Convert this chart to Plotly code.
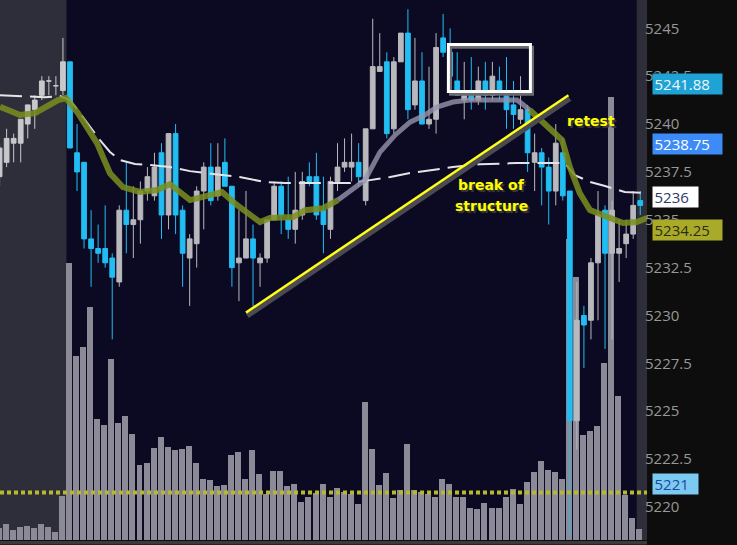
import plotly.graph_objects as go

# ---------------- data ----------------
bar_index = list(range(-10, 82))          # candle number, 0 = first regular-session bar
opens = [5237.25, 5238, 5239, 5239, 5240, 5240.75, 5241.5, 5242.25, 5242, 5241.75,
         5243.25, 5238.5, 5238, 5234, 5233.5, 5233.5, 5233, 5231.75, 5235.5, 5234.75,
         5235, 5236.5, 5236.25, 5238.5, 5235.25, 5239.5, 5235.5, 5233, 5233.75, 5236.5,
         5237.75, 5236.25, 5238, 5236.75, 5232.75, 5233, 5234, 5232.75, 5233, 5235,
         5236.75, 5235, 5234.5, 5235.25, 5237.25, 5237.25, 5235.5, 5234.5, 5237, 5237.75,
         5237.75, 5238, 5236, 5239.75, 5242.75, 5243.25, 5239.75, 5243.25, 5244.75, 5241,
         5242.25, 5240, 5240.25, 5244.5, 5243.75, 5242.25, 5241.25, 5241.75, 5241.25, 5242.25,
         5241.5, 5242.25, 5241.5, 5241, 5240.25, 5240.75, 5238, 5238.5, 5237.75, 5236.5,
         5238.5, 5236.5, 5224.5, 5230, 5229.75, 5232.75, 5235.5, 5233.25, 5233.25, 5233.75,
         5234.25, 5236]
highs = [5239, 5239.75, 5239.5, 5240.25, 5241, 5241.5, 5242.5, 5242.5, 5242.5, 5244.5,
         5243.25, 5240, 5238, 5235.5, 5234.75, 5235.75, 5233.25, 5235.75, 5238, 5236.75,
         5237, 5237.75, 5238.5, 5239, 5239.5, 5240, 5235.75, 5234.25, 5236.75, 5238,
         5239, 5239, 5239.25, 5236.75, 5235.5, 5236.5, 5234.75, 5233.25, 5235, 5237,
         5237, 5237.25, 5237.5, 5237.5, 5238, 5238.5, 5237.25, 5237.25, 5239, 5239.25,
         5239.5, 5239, 5239.75, 5245.5, 5244.75, 5243.75, 5243.5, 5244.75, 5246, 5244.5,
         5243.75, 5243, 5244.75, 5245.75, 5245, 5243.75, 5243.25, 5243.5, 5243, 5243.25,
         5243.25, 5243, 5243.5, 5242.25, 5242.5, 5241, 5239.5, 5238.75, 5238.25, 5240,
         5239.25, 5236.5, 5231.75, 5230.5, 5233, 5236.5, 5235.75, 5236, 5235, 5235,
         5236.5, 5236.5]
lows = [5236.75, 5237.75, 5238, 5238, 5239.25, 5239.75, 5241.25, 5241.5, 5241.5, 5241.5,
        5238.75, 5236.5, 5233.5, 5231.5, 5232.75, 5232.5, 5228.75, 5231.5, 5233.25, 5233,
        5233.75, 5236, 5236, 5234, 5234.5, 5234.25, 5231.5, 5230.5, 5232.5, 5234.5,
        5235.75, 5236, 5236.75, 5231.5, 5230.75, 5233, 5230.5, 5231.5, 5232.75, 5235,
        5234.25, 5234, 5233.75, 5235, 5236.75, 5235, 5233.25, 5234, 5236.5, 5237.5,
        5237, 5236.75, 5235.75, 5239.75, 5242.75, 5239.25, 5239.5, 5243.25, 5240.25, 5240.75,
        5240, 5239.75, 5239.5, 5243.5, 5242, 5241.5, 5240.25, 5240.75, 5241, 5240.75,
        5241.25, 5241.25, 5239.75, 5239.75, 5240, 5237.5, 5236.5, 5235.75, 5234.75, 5235.75,
        5236, 5218.5, 5223, 5227.25, 5228.75, 5229.75, 5228.25, 5228.75, 5231.75, 5233,
        5234, 5235.25]
closes = [5238.75, 5239.25, 5239.25, 5240.25, 5241, 5241.25, 5242.25, 5242.25, 5242, 5243.25,
          5238.75, 5237.5, 5234, 5233.5, 5233.25, 5232.75, 5232, 5235.5, 5234.75, 5235,
          5236.5, 5237.25, 5237.75, 5235.25, 5239.5, 5235.25, 5233.25, 5234, 5236.5, 5237.75,
          5236, 5237.75, 5236.75, 5232.5, 5233, 5234, 5233, 5233, 5235, 5236.75,
          5235.25, 5234.5, 5235.5, 5237, 5237, 5235.25, 5234.75, 5237, 5237.75, 5238,
          5238, 5237.25, 5239.75, 5243, 5243, 5239.5, 5243.25, 5244.75, 5240.75, 5242.25,
          5240, 5240.25, 5244, 5243.75, 5242.5, 5241.5, 5241.5, 5241.25, 5242.25, 5241.5,
          5242.5, 5241.75, 5240.75, 5240.5, 5240.75, 5238.5, 5238.5, 5237.75, 5236.5, 5239,
          5236.25, 5224.5, 5229.75, 5229.5, 5232.75, 5235.25, 5233.25, 5235.5, 5233.5, 5234.25,
          5235.75, 5235.75]
volumes = [12, 16, 10, 13, 14, 12, 16, 13, 8, 44,
           277, 184, 193, 233, 121, 115, 181, 117, 124, 106,
           75, 77, 92, 103, 93, 90, 91, 94, 77, 61,
           60, 54, 55, 85, 88, 61, 90, 66, 46, 69,
           69, 54, 56, 38, 43, 47, 56, 43, 52, 48,
           46, 36, 138, 91, 55, 67, 42, 50, 96, 50,
           48, 46, 43, 61, 56, 43, 43, 32, 31, 37,
           32, 32, 43, 51, 36, 58, 68, 79, 70, 68,
           61, 301, 263, 105, 109, 114, 177, 443, 144, 45,
           22, 11]

# thick moving average (olive when trending, grey during the rally phase)
ma_olive1_i = [-9.94, -7.1, -4.97, -3.55, -1.7, -0.57, 1.14, 3.84, 5.68, 7.53, 9.94, 12.36,
               14.2, 17.05, 18.9, 21.6, 23.7, 26.99, 28.4, 31.7, 33.4, 35.9, 38.07]
ma_olive1_p = [5240.9, 5240.47, 5240.57, 5240.84, 5241.25, 5241.36, 5240.57, 5239.0, 5237.43,
               5236.7, 5236.45, 5236.55, 5236.86, 5236.03, 5236.19, 5236.45, 5235.77, 5234.88,
               5235.09, 5235.14, 5235.5, 5235.6, 5236.03]
ma_grey_i = [38.07, 41.9, 44.03, 46.2, 48.3, 50.4, 52.1, 54.4, 56.8, 59.7, 63.5, 64.3, 65.3]
ma_grey_p = [5236.03, 5237.07, 5238.53, 5239.43, 5240.1, 5240.47, 5240.89, 5241.15, 5241.25,
             5241.25, 5241.25, 5241.04, 5240.73]
ma_olive2_i = [65.3, 67.76, 69.9, 71.0, 72.4, 73.86, 76.3, 78.55, 80.5, 81.96]
ma_olive2_p = [5240.73, 5239.84, 5239.16, 5237.75, 5236.4, 5235.51, 5235.14, 5234.83, 5234.88,
               5235.09]

# dashed slow moving average
ma_slow_i = [-9.94, -7.1, -3.55, -1.42, 0, 1.42, 2.84, 4.26, 5.68, 7.1, 9.23, 11.36, 14.2,
             17.05, 20.6, 24.1, 27.7, 30.5, 35.5, 39.8, 42.6, 45.5, 48.3, 51.1, 54.4, 58.2,
             63.5, 67.8, 70.3, 71.7, 73.9, 76.0, 78.8, 81.96]
ma_slow_p = [5241.51, 5241.46, 5241.4, 5241.46, 5241.25, 5240.57, 5239.84, 5239.16, 5238.54,
             5238.12, 5237.91, 5237.86, 5237.75, 5237.54, 5237.38, 5237.23, 5236.97, 5236.92,
             5236.92, 5236.92, 5237.07, 5237.23, 5237.44, 5237.6, 5237.75, 5237.9, 5237.96,
             5237.96, 5237.96, 5237.33, 5236.97, 5236.76, 5236.45, 5236.4]

level_price = 5220.75                     # dotted yellow level
price_ticks = [5220, 5222.5, 5225, 5227.5, 5230, 5232.5, 5235, 5237.5, 5240, 5242.5, 5245]
tick_text = ['5220', '5222.5', '5225', '5227.5', '5230', '5232.5', '5235', '5237.5', '5240',
             '5242.5', '5245']
badge_values = [5241.88, 5238.75, 5236, 5234.25, 5221]
badge_texts = ['5241.88', '5238.75', '5236', '5234.25', '5221']
badge_bg = ['#1fa2d4', '#3d8bf8', '#ffffff', '#aaaa2a', '#7ccaf2']
badge_fg = ['#eef8ff', '#ffffff', '#2b3b68', '#2c2c10', '#1a4a9a']
badge_w = [66, 66, 42, 66, 42]

trend_i = [25.0, 70.8]
trend_p = [5230.15, 5241.5]
box_i = [53.75, 65.4]
box_p = [5241.7, 5244.15]
session_open_i = -0.5
session_close_i = 80.5

notes = ['retest', 'break of', 'structure']
note_i = [74.0, 59.94, 59.94]
note_p = [5240.15, 5236.81, 5235.71]

# ---------------- styling ----------------
BLUE = '#22bdf2'
GREY = '#b8b8bd'
BG = '#0b0a22'
SHADE = '#2e2e3a'
OLIVE = 'rgba(122,142,30,0.85)'

pre = [k for k, i in enumerate(bar_index) if i < 0]
rth = [k for k, i in enumerate(bar_index) if i >= 0]

def pick(a, ks):
    return [a[k] for k in ks]

fig = go.Figure()

fig.add_trace(go.Bar(x=bar_index, y=volumes, marker=dict(color='#8b8a96', line=dict(width=0)),
                     width=0.85, offset=-0.55, yaxis='y', hoverinfo='skip'))

fig.add_trace(go.Scatter(x=ma_slow_i, y=ma_slow_p, mode='lines', yaxis='y2',
                         line=dict(color='#e4e4e8', width=2, dash='22px,8px'), hoverinfo='skip'))
for xi, yp, col, w in [(ma_olive1_i, ma_olive1_p, OLIVE, 6),
                       (ma_grey_i, ma_grey_p, 'rgba(150,148,172,0.8)', 5),
                       (ma_olive2_i, ma_olive2_p, OLIVE, 6)]:
    fig.add_trace(go.Scatter(x=xi, y=yp, mode='lines', yaxis='y2',
                             line=dict(color=col, width=w), hoverinfo='skip'))

fig.add_trace(go.Candlestick(
    x=pick(bar_index, pre), open=pick(opens, pre), high=pick(highs, pre),
    low=pick(lows, pre), close=pick(closes, pre), yaxis='y2', whiskerwidth=0,
    increasing=dict(line=dict(color='#c8c8cc', width=1), fillcolor='#c8c8cc'),
    decreasing=dict(line=dict(color='#c8c8cc', width=1), fillcolor='#c8c8cc'),
    hoverinfo='skip'))
fig.add_trace(go.Candlestick(
    x=pick(bar_index, rth), open=pick(opens, rth), high=pick(highs, rth),
    low=pick(lows, rth), close=pick(closes, rth), yaxis='y2', whiskerwidth=0,
    increasing=dict(line=dict(color=GREY, width=1), fillcolor=GREY),
    decreasing=dict(line=dict(color=BLUE, width=1), fillcolor=BLUE),
    hoverinfo='skip'))

shapes = [
    dict(type='rect', xref='x', yref='paper', x0=-12, x1=session_open_i, y0=0, y1=1,
         fillcolor=SHADE, line=dict(width=0), layer='below'),
    dict(type='rect', xref='x', yref='paper', x0=session_close_i, x1=84, y0=0, y1=1,
         fillcolor=SHADE, line=dict(width=0), layer='below'),
    dict(type='rect', xref='paper', yref='paper', x0=0, x1=1, y0=-4.5 / 540, y1=-1 / 540,
         fillcolor='#3a3a3e', line=dict(width=0)),
    dict(type='line', xref='paper', yref='y2', x0=0, x1=1, y0=level_price, y1=level_price,
         line=dict(color='#b8b82c', width=4, dash='4px,3px')),
    # trend line with its shadow
    dict(type='line', xref='x', yref='y2', x0=trend_i[0] + 0.2, x1=trend_i[1] + 0.2,
         y0=trend_p[0] - 0.17, y1=trend_p[1] - 0.17, line=dict(color='#4a4a50', width=5)),
    dict(type='line', xref='x', yref='y2', x0=trend_i[0], x1=trend_i[1],
         y0=trend_p[0], y1=trend_p[1], line=dict(color='#ffff1a', width=2.5)),
    # highlighted box with its shadow
    dict(type='rect', xref='x', yref='y2', x0=box_i[0] + 0.3, x1=box_i[1] + 0.3,
         y0=box_p[0] - 0.14, y1=box_p[1] - 0.14, line=dict(color='#6a6a70', width=3)),
    dict(type='rect', xref='x', yref='y2', x0=box_i[0], x1=box_i[1],
         y0=box_p[0], y1=box_p[1], line=dict(color='#ffffff', width=3)),
]

annotations = []
for txt, xi, yp in zip(notes, note_i, note_p):
    annotations.append(dict(x=xi, y=yp, xref='x', yref='y2', text=txt, showarrow=False,
                            font=dict(family='DejaVu Sans', size=14, color='#ffff00',
                                      weight='bold', shadow='2px 2px 1px #3c3c3c')))
for v, t, bg, fg, w in zip(badge_values, badge_texts, badge_bg, badge_fg, badge_w):
    annotations.append(dict(xref='paper', x=1, xanchor='left', xshift=5, yref='y2', y=v,
                            yshift=4, text=t, showarrow=False, bgcolor=bg, width=w, height=17,
                            align='left', borderpad=1.5,
                            font=dict(family='Open Sans', size=15, color=fg)))

fig.update_layout(
    width=737, height=545,
    margin=dict(l=0, r=90, t=0, b=5),
    paper_bgcolor='#0d0d0d', plot_bgcolor=BG,
    showlegend=False,
    boxgap=0.18, boxgroupgap=0.18, bargap=0,
    xaxis=dict(range=[-9.94, 81.96], visible=False, showgrid=False, zeroline=False,
               rangeslider=dict(visible=False), fixedrange=True),
    yaxis=dict(range=[0, 540], visible=False, showgrid=False, zeroline=False, fixedrange=True),
    yaxis2=dict(range=[5218.27, 5246.48], overlaying='y', side='right', anchor='x',
                tickmode='array', tickvals=price_ticks, ticktext=tick_text,
                tickfont=dict(family='Open Sans', size=15, color='#979797'),
                ticklabelstandoff=-3,
                showgrid=False, zeroline=False, ticks='', showline=False, fixedrange=True),
    shapes=shapes,
    annotations=annotations,
)

fig.write_html('out.html', config={'displayModeBar': False},
               post_script="document.body.style.margin='0';")
